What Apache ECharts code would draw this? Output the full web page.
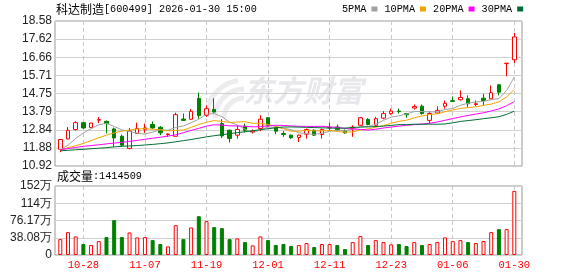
<!DOCTYPE html>
<html><head><meta charset="utf-8">
<script src="https://cdn.jsdelivr.net/npm/echarts@6/dist/echarts.min.js"></script>
<style>html,body{margin:0;padding:0;background:#fff}#c{width:578px;height:276px}</style>
</head><body><div id="c"></div>
<script>
const dates = ['10-23','10-24','10-27','10-28','10-29','10-30','10-31','11-03','11-04','11-05',
  '11-06','11-07','11-10','11-11','11-12','11-13','11-14','11-17','11-18','11-19',
  '11-20','11-21','11-24','11-25','11-26','11-27','11-28','12-01','12-02','12-03',
  '12-04','12-05','12-08','12-09','12-10','12-11','12-12','12-15','12-16','12-17',
  '12-18','12-19','12-22','12-23','12-24','12-25','12-26','12-29','12-30','12-31',
  '01-05','01-06','01-07','01-08','01-09','01-12','01-13','01-14','01-15','01-30'];
const opens = [11.80,12.35,12.85,13.21,12.95,13.34,13.28,12.88,12.49,11.85,
  12.64,12.86,13.11,12.97,12.58,12.49,13.40,13.39,14.49,13.60,
  13.91,13.16,12.81,12.55,13.02,12.72,12.90,13.47,12.98,12.64,
  12.55,12.43,12.60,12.81,12.58,12.93,12.98,12.76,12.90,13.07,
  13.38,13.07,13.45,13.69,13.82,13.69,13.98,14.08,13.33,13.72,
  14.08,14.37,14.42,14.47,14.17,14.50,14.47,15.21,16.33,16.53];
const closes = [12.32,12.81,13.21,12.93,13.19,13.37,13.16,12.40,12.02,12.77,
  12.90,12.93,12.93,12.67,12.61,13.63,13.33,13.81,13.58,13.95,
  13.77,12.51,12.37,12.85,12.81,12.77,13.39,13.07,12.76,12.58,
  12.41,12.55,12.85,12.55,12.85,12.96,12.85,12.67,12.97,13.47,
  13.11,13.42,13.69,13.82,13.79,13.63,14.06,13.69,13.69,13.86,
  14.23,14.33,14.54,14.21,14.21,14.38,14.79,14.82,16.35,17.74];
const lows = [11.65,12.32,12.79,12.88,12.95,13.19,12.64,11.93,11.93,11.80,
  12.64,12.67,12.88,12.55,12.46,12.49,13.32,13.35,13.42,13.51,
  13.74,12.40,12.16,12.37,12.69,12.64,12.76,12.98,12.60,12.46,
  12.35,12.19,12.37,12.51,12.37,12.76,12.77,12.62,12.46,13.03,
  13.07,12.98,13.39,13.63,13.69,13.47,13.91,13.63,13.16,13.69,
  13.95,14.33,14.38,14.03,14.08,14.12,14.44,14.65,15.66,16.36];
const highs = [12.33,12.98,13.28,13.25,13.20,13.51,13.32,12.95,12.58,12.93,
  13.21,13.16,13.28,13.02,12.64,13.74,13.69,13.93,14.80,14.12,
  14.50,13.39,12.85,13.07,13.16,12.85,13.60,13.50,13.02,12.76,
  12.58,12.58,12.90,12.86,12.90,13.21,13.11,12.85,13.07,13.51,
  13.45,13.51,13.82,13.95,13.95,13.72,14.17,14.17,13.81,14.07,
  14.38,14.59,14.91,14.65,14.38,14.73,15.17,15.26,16.35,17.95];
const volumes = [351000,505000,410000,242000,220000,307000,395000,769000,395000,498000,
  388000,395000,329000,242000,190000,659000,351000,608000,856000,747000,
  615000,593000,351000,366000,285000,212000,410000,329000,220000,242000,
  198000,220000,264000,176000,242000,242000,220000,132000,285000,417000,
  220000,329000,285000,234000,242000,198000,285000,220000,242000,285000,
  388000,307000,329000,285000,264000,307000,505000,571000,571000,1414509];
const volDir = [1,1,1,-1,1,1,-1,-1,-1,1, 1,1,-1,-1,1,1,-1,1,-1,1,
  -1,-1,-1,1,-1,1,1,-1,-1,-1, -1,1,1,-1,1,1,-1,-1,1,1,
  -1,1,1,1,-1,-1,1,-1,1,1, 1,1,1,-1,1,1,1,-1,1,1];
const ma5 = [11.76,12.02,12.37,12.67,12.892,13.102,13.172,13.010,12.828,12.744,
  12.650,12.604,12.710,12.840,12.808,12.954,13.034,13.210,13.392,13.660,
  13.688,13.524,13.236,13.090,12.862,12.662,12.838,12.978,12.960,12.914,
  12.842,12.674,12.630,12.588,12.642,12.752,12.812,12.776,12.860,12.984,
  13.014,13.128,13.332,13.502,13.566,13.670,13.798,13.798,13.772,13.786,
  13.906,13.960,14.130,14.234,14.304,14.334,14.426,14.482,14.91,15.62];
const ma10 = [11.75,11.89,11.99,12.11,12.26,12.41,12.55,12.67,12.76,12.818,
  12.876,12.888,12.860,12.834,12.776,12.802,12.819,12.960,13.116,13.234,
  13.321,13.279,13.223,13.241,13.261,13.175,13.181,13.107,13.025,12.888,
  12.752,12.756,12.804,12.774,12.778,12.797,12.743,12.703,12.724,12.813,
  12.883,12.970,13.054,13.181,13.275,13.342,13.463,13.565,13.637,13.676,
  13.788,13.879,13.964,14.003,14.045,14.120,14.193,14.306,14.572,14.960];
const ma20 = [11.78,11.84,11.90,11.96,12.00,12.04,12.09,12.13,12.17,12.22,
  12.27,12.33,12.39,12.44,12.50,12.57,12.68,12.80,12.91,13.026,
  13.099,13.084,13.042,13.038,13.019,12.989,13.000,13.034,13.071,13.061,
  13.037,13.018,13.014,13.008,13.020,12.986,12.962,12.905,12.875,12.851,
  12.818,12.863,12.929,12.978,13.027,13.070,13.103,13.134,13.181,13.245,
  13.336,13.425,13.509,13.592,13.660,13.731,13.828,13.936,14.105,14.318];
const ma30 = [11.72,11.75,11.78,11.80,11.83,11.86,11.89,11.93,11.96,11.98,
  12.00,12.03,12.06,12.10,12.14,12.20,12.26,12.32,12.39,12.46,
  12.52,12.57,12.63,12.68,12.73,12.78,12.84,12.89,12.94,12.980,
  12.983,12.974,12.962,12.950,12.938,12.925,12.914,12.923,12.955,12.978,
  12.985,13.002,13.027,13.065,13.105,13.105,13.129,13.125,13.129,13.126,
  13.141,13.202,13.274,13.319,13.366,13.420,13.466,13.525,13.645,13.816];
const priceTicks = ['10.92','11.88','12.84','13.79','14.75','15.71','16.66','17.62','18.58'];
const volTicks = ['0','38.08万','76.17万','114万','152万'];

const candleData = dates.map((d, i) => [opens[i], closes[i], lows[i], highs[i]]);
const volData = volumes.map((v, i) => ({
  value: v,
  itemStyle: volDir[i] > 0
    ? { color: '#ffffff', borderColor: '#ff0000', borderWidth: 1 }
    : { color: '#008000', borderColor: '#008000', borderWidth: 1 }
}));
const showIdx = (i) => (i - 3) % 8 === 0;
const gridLine = { show: true, lineStyle: { color: '#d0d0d0', width: 1 } };
const dashLine = { show: true, interval: showIdx, lineStyle: { color: '#c8c8c8', width: 1, type: [4, 3] } };
const labelFont = { fontFamily: 'Liberation Sans, Arial', fontSize: 12, color: '#222' };
const richTitle = {
  a: { fontFamily: 'Noto Sans CJK SC', fontSize: 12, fontWeight: 'normal', color: '#000' },
  b: { fontFamily: 'Liberation Mono', fontSize: 10.2, fontWeight: 'normal', color: '#000' }
};
const wm = '#ececef';

const chart = echarts.init(document.getElementById('c'));
chart.setOption({
  animation: false,
  backgroundColor: '#fff',
  title: [
    { left: 56, top: 3, padding: 0,
      text: '{a|科达制造}{b|[600499] 2026-01-30 15:00}',
      textStyle: { fontWeight: 'normal', rich: richTitle } },
    { left: 57, top: 170, padding: 0,
      text: '{a|成交量}{b|:' + volumes[volumes.length - 1] + '}',
      textStyle: { fontWeight: 'normal', rich: richTitle } }
  ],
  legend: {
    left: 342, top: 4, padding: 0, align: 'right', icon: 'rect',
    itemWidth: 6, itemHeight: 5, itemGap: 7, selectedMode: false,
    textStyle: { fontFamily: 'Liberation Mono', fontSize: 10.2, color: '#000' },
    data: ['5PMA', '10PMA', '20PMA', '30PMA']
  },
  graphic: [
    { type: 'arc', z: 0, silent: true, shape: { cx: 244, cy: 118, r: 20, startAngle: Math.PI * 1.0, endAngle: Math.PI * 1.5 },
      style: { stroke: wm, lineWidth: 5, fill: null } },
    { type: 'arc', z: 0, silent: true, shape: { cx: 244, cy: 118, r: 29, startAngle: Math.PI * 1.0, endAngle: Math.PI * 1.5 },
      style: { stroke: wm, lineWidth: 5, fill: null } },
    { type: 'arc', z: 0, silent: true, shape: { cx: 244, cy: 118, r: 38, startAngle: Math.PI * 1.05, endAngle: Math.PI * 1.45 },
      style: { stroke: wm, lineWidth: 5, fill: null } },
    { type: 'text', left: 243, top: 76, z: 0, silent: true,
      style: { text: '东方财富', fill: '#e8e8ec', font: 'italic bold 30px "Noto Sans CJK SC"' } }
  ],
  grid: [
    { left: 55, top: 21, width: 467, height: 145, show: true, borderColor: '#999', borderWidth: 1, backgroundColor: 'transparent' },
    { left: 60.3, top: 21, width: 454, height: 145, show: false },
    { left: 55, top: 186, width: 467, height: 69, show: true, borderColor: '#999', borderWidth: 1, backgroundColor: 'transparent' },
    { left: 60.3, top: 186, width: 454, height: 69, show: false }
  ],
  xAxis: [
    { gridIndex: 0, type: 'value', show: false, min: 0, max: 1 },
    { gridIndex: 1, type: 'category', data: dates, boundaryGap: false,
      axisLine: { show: false }, axisTick: { show: false }, axisLabel: { show: false },
      splitLine: dashLine },
    { gridIndex: 2, type: 'value', show: false, min: 0, max: 1 },
    { gridIndex: 3, type: 'category', data: dates, boundaryGap: false,
      axisLine: { show: false }, axisTick: { show: false },
      axisLabel: { show: true, interval: showIdx, margin: 5, color: '#ff0000',
        fontFamily: 'Liberation Mono', fontSize: 10.5 },
      splitLine: dashLine }
  ],
  yAxis: [
    { gridIndex: 0, type: 'value', min: 0, max: 8, interval: 1,
      axisLine: { show: false }, axisTick: { show: false },
      axisLabel: Object.assign({ margin: 3, formatter: (v) => priceTicks[Math.round(v)] }, labelFont),
      splitLine: gridLine },
    { gridIndex: 1, type: 'value', show: false, min: 10.92, max: 18.58, splitLine: { show: false } },
    { gridIndex: 2, type: 'value', min: 0, max: 4, interval: 1,
      axisLine: { show: false }, axisTick: { show: false },
      axisLabel: Object.assign({ margin: 3, formatter: (v) => volTicks[Math.round(v)] }, labelFont),
      splitLine: gridLine },
    { gridIndex: 3, type: 'value', show: false, min: 0, max: 1523320, splitLine: { show: false } }
  ],
  series: [
    { type: 'candlestick', xAxisIndex: 1, yAxisIndex: 1, data: candleData, barWidth: 4, clip: false, z: 2,
      itemStyle: { color: '#ffffff', color0: '#008000', borderColor: '#ff0000', borderColor0: '#008000', borderWidth: 1 } },
    { name: '5PMA', type: 'line', xAxisIndex: 1, yAxisIndex: 1, data: ma5, symbol: 'none', z: 3,
      color: '#a0a0a0', lineStyle: { width: 1, color: '#a0a0a0' } },
    { name: '10PMA', type: 'line', xAxisIndex: 1, yAxisIndex: 1, data: ma10, symbol: 'none', z: 3,
      color: '#f4a300', lineStyle: { width: 1, color: '#f4a300' } },
    { name: '20PMA', type: 'line', xAxisIndex: 1, yAxisIndex: 1, data: ma20, symbol: 'none', z: 3,
      color: '#ff00ff', lineStyle: { width: 1, color: '#ff00ff' } },
    { name: '30PMA', type: 'line', xAxisIndex: 1, yAxisIndex: 1, data: ma30, symbol: 'none', z: 3,
      color: '#006f35', lineStyle: { width: 1, color: '#006f35' } },
    { type: 'bar', xAxisIndex: 3, yAxisIndex: 3, data: volData, barWidth: 4, clip: false, z: 2 }
  ]
});
</script></body></html>
